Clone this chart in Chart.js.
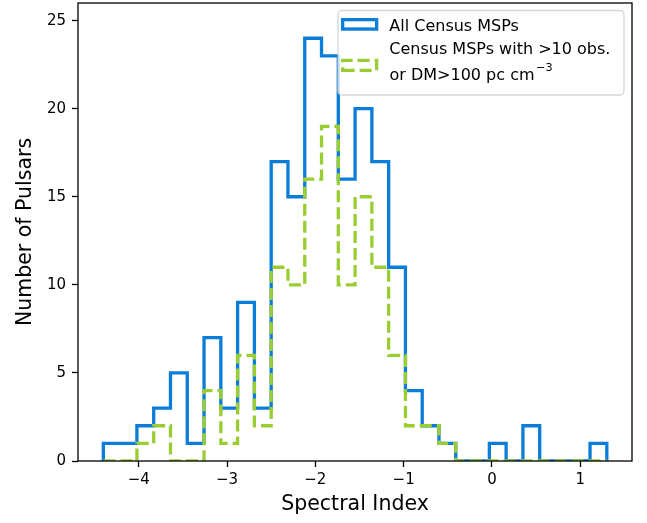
<!DOCTYPE html>
<html>
<head>
<meta charset="utf-8">
<title>Spectral index distribution of Census MSPs</title>
<script src="https://cdn.jsdelivr.net/npm/chart.js@4.4.1/dist/chart.umd.min.js"></script>
<style>
  html, body { margin: 0; padding: 0; background: #ffffff; }
  #wrap { width: 647px; height: 523px; }
</style>
</head>
<body>
<div id="wrap"><canvas id="hist" width="647" height="523"></canvas></div>
<script>
// Histogram bin edges (spectral index)
const binEdges = [
  -4.40, -4.21, -4.02, -3.83, -3.64, -3.45, -3.26, -3.07, -2.88, -2.69,
  -2.50, -2.31, -2.12, -1.93, -1.74, -1.55, -1.36, -1.17, -0.98, -0.79,
  -0.60, -0.41, -0.22, -0.03,  0.16,  0.35,  0.54,  0.73,  0.92,  1.11,
   1.30
];
// Counts per bin: all Census MSPs
const allCounts = [
  1, 1, 2, 3, 5, 1, 7, 3, 9, 3,
  17, 15, 24, 23, 16, 20, 17, 11, 4, 2,
  1, 0, 0, 1, 0, 2, 0, 0, 0, 1
];
// Counts per bin: Census MSPs with >10 obs. or DM>100 pc cm^-3
const selCounts = [
  0, 0, 1, 2, 0, 0, 4, 1, 6, 2,
  11, 10, 16, 19, 10, 15, 11, 6, 2, 2,
  1, 0, 0, 0, 0, 0, 0, 0, 0, 0
];
const xTicks = [-4, -3, -2, -1, 0, 1];
const yTicks = [0, 5, 10, 15, 20, 25];
const seriesLabels = ['All Census MSPs', 'Census MSPs with >10 obs.', 'or DM>100 pc cm'];

const FONT = 'DejaVu Sans';
const BLUE = '#0a7dd8';
const GREEN = '#9acd32';

// Step-histogram outline: each point sits on a bin's right edge with that bin's count
function stepOutline(edges, counts) {
  const n = counts.length;
  const pts = [{ x: edges[0], y: 0 }, { x: edges[0], y: counts[0] }];
  for (let i = 1; i <= n; i++) pts.push({ x: edges[i], y: counts[i - 1] });
  pts.push({ x: edges[n], y: 0 });
  return pts;
}

function fmtTick(v) {
  return v < 0 ? '\u2212' + Math.abs(v) : String(v);
}

// Axes frame drawn over the data, like spines
const framePlugin = {
  id: 'frame',
  afterDatasetsDraw(chart) {
    const { ctx, chartArea: a } = chart;
    ctx.save();
    ctx.strokeStyle = '#000';
    ctx.lineWidth = 1.3;
    ctx.strokeRect(a.left, a.top, a.right - a.left, a.bottom - a.top);
    ctx.restore();
  }
};

// Legend box with outlined patches and a two-line label
const legendPlugin = {
  id: 'histLegend',
  afterDraw(chart) {
    const ctx = chart.ctx;
    ctx.save();
    const bx = 338, by = 10.5, bw = 286, bh = 84.5, r = 4;
    ctx.beginPath();
    ctx.moveTo(bx + r, by);
    ctx.lineTo(bx + bw - r, by);
    ctx.arcTo(bx + bw, by, bx + bw, by + r, r);
    ctx.lineTo(bx + bw, by + bh - r);
    ctx.arcTo(bx + bw, by + bh, bx + bw - r, by + bh, r);
    ctx.lineTo(bx + r, by + bh);
    ctx.arcTo(bx, by + bh, bx, by + bh - r, r);
    ctx.lineTo(bx, by + r);
    ctx.arcTo(bx, by, bx + r, by, r);
    ctx.closePath();
    ctx.fillStyle = 'rgba(255,255,255,0.8)';
    ctx.fill();
    ctx.strokeStyle = 'rgba(204,204,204,0.8)';
    ctx.lineWidth = 1.3;
    ctx.stroke();

    // patches
    ctx.lineWidth = 3.3;
    ctx.lineJoin = 'miter';
    ctx.strokeStyle = BLUE;
    ctx.setLineDash([]);
    ctx.strokeRect(342.65, 19.65, 34, 9.4);

    ctx.strokeStyle = GREEN;
    ctx.setLineDash([12, 5]);
    const px = 342.65, py = 60.35, pw = 34, ph = 10;
    ctx.beginPath();
    ctx.moveTo(px, py + ph);
    ctx.lineTo(px + pw, py + ph);
    ctx.lineTo(px + pw, py);
    ctx.lineTo(px, py);
    ctx.closePath();
    ctx.stroke();
    ctx.setLineDash([]);

    // labels
    ctx.fillStyle = '#000';
    ctx.textAlign = 'left';
    ctx.textBaseline = 'alphabetic';
    ctx.font = '16px "' + FONT + '"';
    ctx.fillText(seriesLabels[0], 389.3, 30.7);
    ctx.fillText(seriesLabels[1], 389.3, 54.3);
    ctx.fillText(seriesLabels[2], 389.5, 79.7);
    const w = ctx.measureText(seriesLabels[2]).width;
    ctx.font = '11.3px "' + FONT + '"';
    ctx.fillText('\u22123', 389.5 + w + 1.5, 71.3);
    ctx.restore();
  }
};

const axisGrid = {
  drawOnChartArea: false,
  drawTicks: true,
  tickLength: 6,
  tickWidth: 1.3,
  tickColor: '#000',
  offset: false
};

new Chart(document.getElementById('hist'), {
  type: 'line',
  data: {
    datasets: [
      {
        label: seriesLabels[0],
        data: stepOutline(binEdges, allCounts),
        borderColor: BLUE,
        borderWidth: 3.3,
        stepped: 'after',
        pointRadius: 0,
        fill: false,
        order: 2,
        borderJoinStyle: 'miter'
      },
      {
        label: seriesLabels[1] + ' ' + seriesLabels[2],
        data: stepOutline(binEdges, selCounts),
        borderColor: GREEN,
        borderWidth: 3.3,
        borderDash: [12, 5],
        stepped: 'after',
        pointRadius: 0,
        fill: false,
        order: 1,
        borderJoinStyle: 'miter'
      }
    ]
  },
  options: {
    responsive: false,
    animation: false,
    devicePixelRatio: 1,
    layout: { padding: { left: 0, top: 3, right: 15, bottom: 0 } },
    plugins: {
      legend: { display: false },
      tooltip: { enabled: false }
    },
    scales: {
      x: {
        type: 'linear',
        min: -4.687,
        max: 1.585,
        afterBuildTicks: s => { s.ticks = xTicks.map(v => ({ value: v })); },
        afterFit: s => { s.height = 62; s.paddingLeft = 0; s.paddingRight = 0; },
        grid: axisGrid,
        border: { display: false },
        ticks: {
          font: { family: FONT, size: 15 },
          color: '#000',
          padding: 4,
          maxRotation: 0,
          autoSkip: false,
          callback: fmtTick
        },
        title: {
          display: true,
          text: 'Spectral Index',
          font: { family: FONT, size: 20.5 },
          color: '#000',
          padding: { top: 0, bottom: 6 }
        }
      },
      y: {
        type: 'linear',
        min: 0,
        max: 26,
        afterBuildTicks: s => { s.ticks = yTicks.map(v => ({ value: v })); },
        afterFit: s => { s.width = 78; s.paddingTop = 0; s.paddingBottom = 0; },
        grid: axisGrid,
        border: { display: false },
        ticks: {
          font: { family: FONT, size: 15 },
          color: '#000',
          padding: 6,
          autoSkip: false,
          callback: fmtTick
        },
        title: {
          display: true,
          text: 'Number of Pulsars',
          font: { family: FONT, size: 20.5 },
          color: '#000',
          padding: { top: 13.5, bottom: 0 }
        }
      }
    }
  },
  plugins: [framePlugin, legendPlugin]
});
</script>
</body>
</html>
